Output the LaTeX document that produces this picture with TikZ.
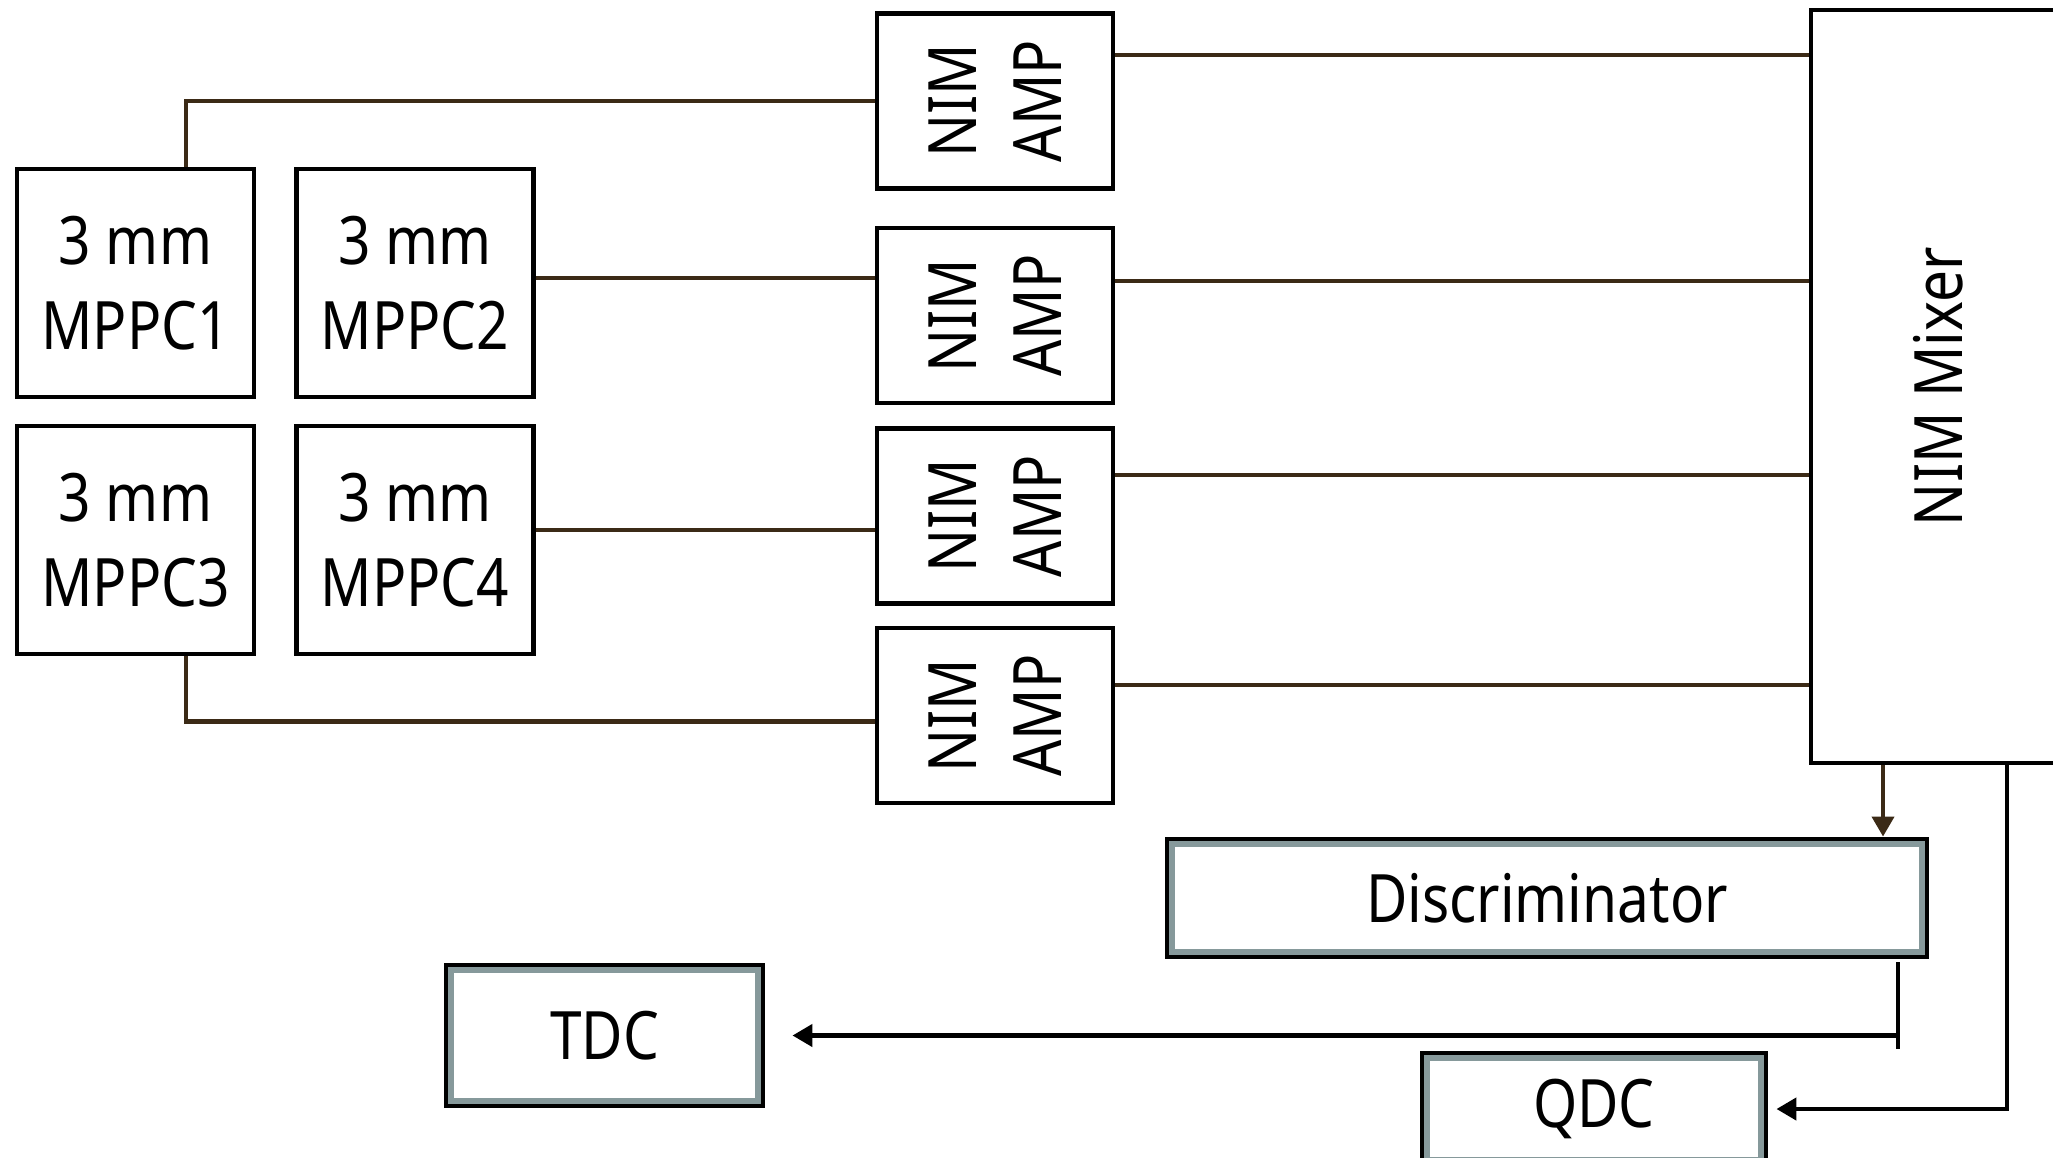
\documentclass[tikz,border=0pt]{standalone}
\usepackage{fontspec}
\setmainfont[FakeStretch=0.85]{Noto Sans}
\usetikzlibrary{arrows.meta}

\definecolor{wirebrown}{HTML}{3B2A16}
\definecolor{bandgray}{HTML}{86999B}

\tikzset{
  box/.style={draw, line width=1.4pt, inner sep=0pt, align=center,
    font=\fontsize{19}{24}\selectfont},
  modbox/.style={box, path picture={
      \draw[bandgray, line width=1.5pt]
        ([shift={(0.05,-0.05)}]path picture bounding box.north west) rectangle
        ([shift={(-0.05,0.05)}]path picture bounding box.south east);}},
  vtext/.style={rotate=90, align=center, font=\fontsize{19}{24}\selectfont},
  wire/.style={wirebrown, line width=1.15pt},
  sig/.style={black, line width=1.3pt},
  tip/.style={-{Triangle[length=0.2cm,width=0.22cm]}}
}

\begin{document}
\begin{tikzpicture}
  \useasboundingbox (0,0) rectangle (20.53,-11.58);

  % MPPC array
  \node[box, minimum width=2.37cm, minimum height=2.28cm] (mppc1) at (1.355,-2.83) {3 mm\\MPPC1};
  \node[box, minimum width=2.37cm, minimum height=2.28cm] (mppc2) at (4.15,-2.83) {3 mm\\MPPC2};
  \node[box, minimum width=2.37cm, minimum height=2.28cm] (mppc3) at (1.355,-5.40) {3 mm\\MPPC3};
  \node[box, minimum width=2.37cm, minimum height=2.28cm] (mppc4) at (4.15,-5.40) {3 mm\\MPPC4};

  % amplifiers
  \foreach \i/\y in {1/-1.01, 2/-3.155, 3/-5.16, 4/-7.155}{
    \node[box, minimum width=2.36cm, minimum height=1.75cm,
      label={[vtext]center:NIM\\AMP}] (amp\i) at (9.95,\y) {};
  }

  \node[box, minimum width=2.54cm, minimum height=7.53cm,
    label={[vtext]center:NIM Mixer}] (mixer) at (19.38,-3.865) {};

  % NIM modules
  \node[modbox, minimum width=7.6cm, minimum height=1.18cm] (disc) at (15.47,-8.98) {Discriminator};
  \node[modbox, minimum width=3.17cm, minimum height=1.41cm] (tdc) at (6.045,-10.355) {TDC};
  \node[modbox, minimum width=3.44cm, minimum height=1.12cm] (qdc) at (15.94,-11.09) {QDC};

  % MPPC -> AMP
  \draw[wire] ([xshift=0.505cm]mppc1.north) |- (amp1.west);
  \draw[wire] ([yshift=0.05cm]mppc2.east) -- ([yshift=0.05cm]mppc2.east -| amp2.west);
  \draw[wire] ([yshift=0.1cm]mppc4.east) -- ([yshift=0.1cm]mppc4.east -| amp3.west);
  \draw[wire] ([xshift=0.505cm]mppc3.south) |- ([yshift=-0.06cm]amp4.west);

  % AMP -> mixer
  \foreach \i/\d in {1/0.46, 2/0.345, 3/0.41, 4/0.305}
    \draw[wire] ([yshift=\d cm]amp\i.east) -- ([yshift=\d cm]amp\i.east -| mixer.west);

  % mixer outputs
  \draw[wire, tip] ([xshift=-0.55cm]mixer.south) -- ([xshift=-0.55cm]mixer.south |- disc.north);
  \draw[sig, tip, shorten >=0.08cm] ([xshift=0.69cm]mixer.south) |- (qdc.east);

  % discriminator -> TDC
  \draw[sig] ([xshift=3.51cm,yshift=-0.03cm]disc.south) -- ++(0,-0.87) coordinate (tee);
  \draw[sig, tip, shorten >=0.27cm] ([xshift=3.51cm]disc.south |- tdc.east) -- (tdc.east);
\end{tikzpicture}
\end{document}
